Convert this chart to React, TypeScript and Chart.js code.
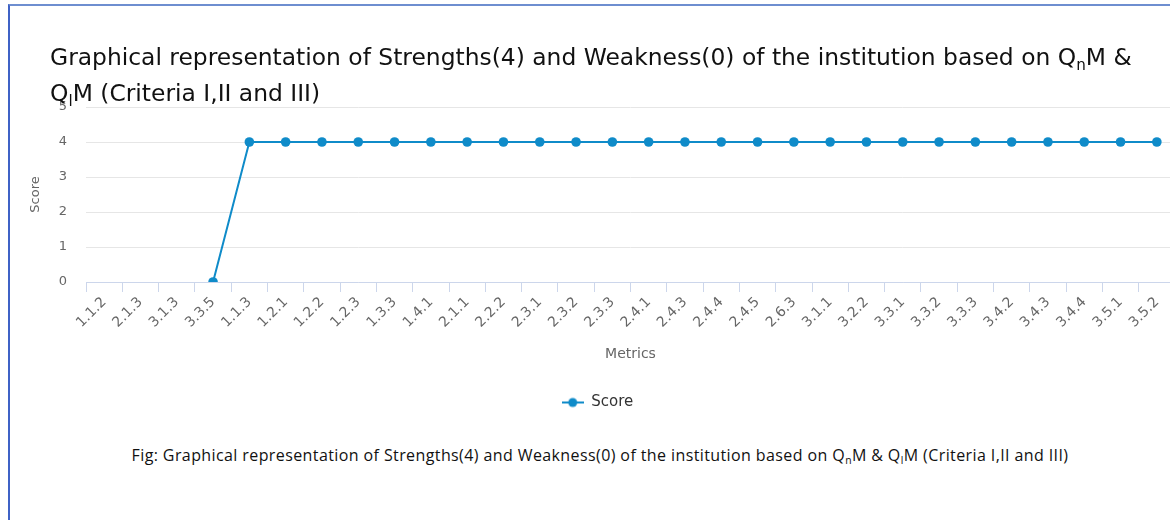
import React, { useEffect, useRef } from "react";
import { Chart, registerables } from "chart.js";

Chart.register(...registerables);

const categories: string[] = [
  "1.1.2", "2.1.3", "3.1.3", "3.3.5", "1.1.3", "1.2.1", "1.2.2", "1.2.3", "1.3.3", "1.4.1",
  "2.1.1", "2.2.2", "2.3.1", "2.3.2", "2.3.3", "2.4.1", "2.4.3", "2.4.4", "2.4.5", "2.6.3",
  "3.1.1", "3.2.2", "3.3.1", "3.3.2", "3.3.3", "3.4.2", "3.4.3", "3.4.4", "3.5.1", "3.5.2",
];
const scores: (number | null)[] = [
  null, null, null, 0, 4, 4, 4, 4, 4, 4,
  4, 4, 4, 4, 4, 4, 4, 4, 4, 4,
  4, 4, 4, 4, 4, 4, 4, 4, 4, 4,
];
const yTicks: number[] = [0, 1, 2, 3, 4, 5];
const seriesName = "Score";
const xTitle = "Metrics";
const yTitle = "Score";

const LINE = "#0f8bc9";
const FONT = "'DejaVu Sans', sans-serif";

const subStyle: React.CSSProperties = { fontSize: "0.65em", lineHeight: 0, verticalAlign: "-0.3em" };

export default function App() {
  const ref = useRef<HTMLCanvasElement | null>(null);

  useEffect(() => {
    if (!ref.current) return;
    const sym = document.createElement("canvas");
    sym.width = 22;
    sym.height = 12;
    const c = sym.getContext("2d")!;
    c.strokeStyle = LINE;
    c.lineWidth = 2;
    c.beginPath();
    c.moveTo(0, 6);
    c.lineTo(22, 6);
    c.stroke();
    c.fillStyle = LINE;
    c.beginPath();
    c.arc(11, 6, 4.5, 0, Math.PI * 2);
    c.fill();

    const chart = new Chart(ref.current, {
      type: "line",
      data: {
        labels: categories,
        datasets: [
          {
            label: seriesName,
            data: scores,
            borderColor: LINE,
            backgroundColor: LINE,
            borderWidth: 2,
            pointRadius: 4.8,
            pointBackgroundColor: LINE,
            pointBorderWidth: 0,
            tension: 0,
            spanGaps: false,
          },
        ],
      },
      options: {
        animation: false,
        responsive: false,
        maintainAspectRatio: false,
        layout: { padding: { top: 107, left: 20, right: 5, bottom: 10 } },
        plugins: {
          title: { display: false },
          tooltip: { enabled: false },
          legend: {
            display: true,
            position: "bottom",
            labels: {
              usePointStyle: true,
              pointStyle: sym as any,
              pointStyleWidth: 22,
              boxHeight: 12,
              padding: 10,
              color: "#333333",
              font: { family: FONT, size: 15 },
            },
          },
        },
        scales: {
          x: {
            type: "category",
            offset: true,
            grid: {
              offset: true,
              drawOnChartArea: false,
              drawTicks: true,
              tickLength: 10,
              color: "#ccd6eb",
            },
            border: { display: true, color: "#ccd6eb", width: 1 },
            ticks: {
              autoSkip: false,
              minRotation: 45,
              maxRotation: 45,
              padding: 2,
              color: "#666666",
              font: { family: FONT, size: 14 },
            },
            title: {
              display: true,
              text: xTitle,
              color: "#666666",
              font: { family: FONT, size: 14 },
              padding: { top: 0, bottom: 22 },
            },
            afterFit: (s: any) => {
              s.height = 103;
            },
          },
          y: {
            min: 0,
            max: 5,
            afterBuildTicks: (s: any) => {
              s.ticks = yTicks.map((v) => ({ value: v }));
            },
            grid: {
              color: "#e6e6e6",
              lineWidth: 1,
              drawTicks: false,
            },
            border: { display: false },
            ticks: {
              padding: 19,
              color: "#666666",
              font: { family: FONT, size: 13 },
            },
            title: {
              display: true,
              text: yTitle,
              color: "#666666",
              font: { family: FONT, size: 13 },
              padding: { top: 8, bottom: 0 },
            },
            afterFit: (s: any) => {
              s.width = 66;
            },
          },
        },
      },
    });
    return () => chart.destroy();
  }, []);

  return (
    <div style={{ position: "fixed", left: 0, top: 0, width: "100vw", height: "100vh", overflow: "hidden", background: "#fff" }}>
      <div
        style={{
          position: "absolute",
          left: 8,
          top: 4,
          width: 1300,
          height: 600,
          borderLeft: "2px solid #3f62c6",
          borderTop: "2px solid #6e8ed0",
          boxSizing: "border-box",
        }}
      />
      <canvas ref={ref} width={1180} height={430} style={{ position: "absolute", left: 0, top: 0, width: 1180, height: 430 }} />
      <div
        style={{
          position: "absolute",
          left: 50,
          top: 39,
          fontFamily: FONT,
          fontSize: 23.4,
          lineHeight: "36px",
          color: "#111",
          whiteSpace: "nowrap",
        }}
      >
        <div>
          Graphical representation of Strengths(4) and Weakness(0) of the institution based on Q<sub style={subStyle}>n</sub>M &amp;
        </div>
        <div>
          Q<sub style={subStyle}>l</sub>M (Criteria I,II and III)
        </div>
      </div>
      <div
        style={{
          position: "absolute",
          left: 0,
          width: 1200,
          top: 445,
          textAlign: "center",
          fontFamily: "'Open Sans', sans-serif",
          fontSize: 16,
          letterSpacing: 0.4,
          lineHeight: "20px",
          color: "#111",
          whiteSpace: "nowrap",
        }}
      >
        Fig: Graphical representation of Strengths(4) and Weakness(0) of the institution based on Q
        <sub style={subStyle}>n</sub>M &amp; Q<sub style={subStyle}>l</sub>M (Criteria I,II and III)
      </div>
    </div>
  );
}
